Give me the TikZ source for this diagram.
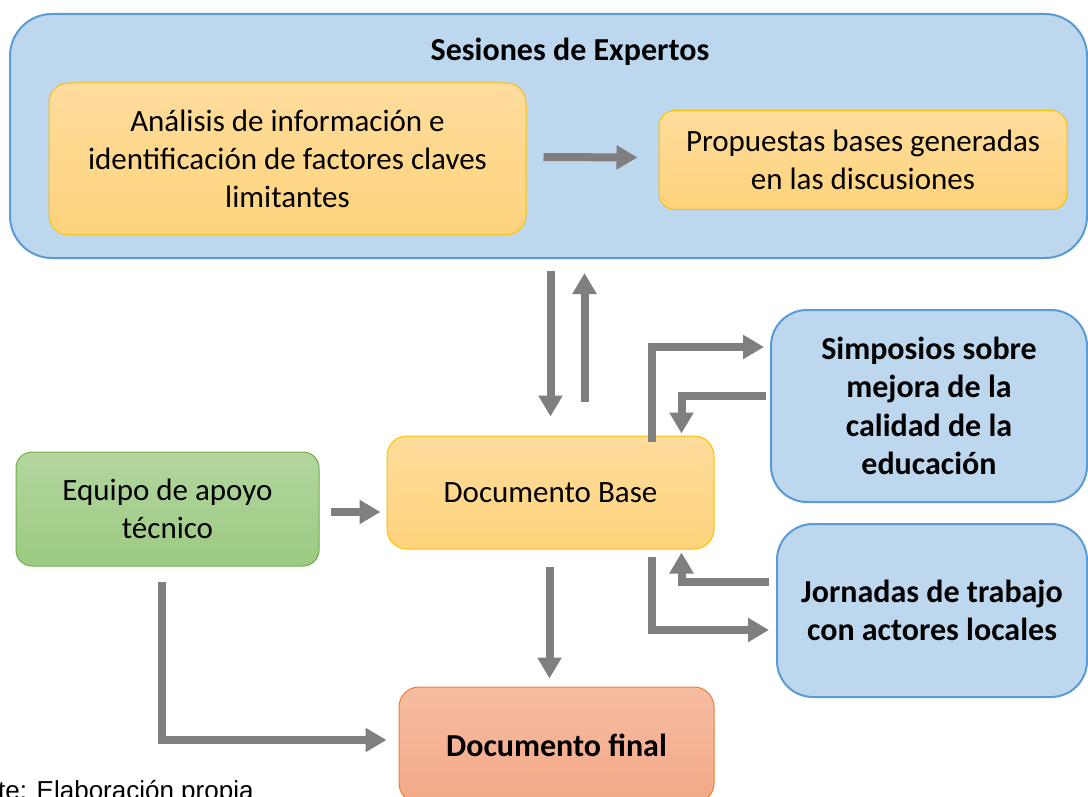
\documentclass[tikz,border=0pt]{standalone}
\usepackage{fontspec}
\setmainfont{Carlito}
\newfontfamily\arialf{Liberation Sans}
\usetikzlibrary{arrows.meta,calc}
\definecolor{bluef}{HTML}{BDD7EE}
\definecolor{blueb}{HTML}{5B9BD5}
\definecolor{orT}{HTML}{FEDC9C}
\definecolor{orB}{HTML}{FED37C}
\definecolor{orb}{HTML}{FFC000}
\definecolor{grT}{HTML}{B3D69F}
\definecolor{grB}{HTML}{9BCA81}
\definecolor{grb}{HTML}{70AD47}
\definecolor{saT}{HTML}{F6BDA2}
\definecolor{saB}{HTML}{F4A886}
\definecolor{sab}{HTML}{ED7D31}
\definecolor{arrg}{HTML}{7F7F7F}
\begin{document}
\begin{tikzpicture}[x=1pt,y=-1pt,
  every node/.style={font=\fontsize{31}{38}\selectfont, align=center, inner sep=0pt},
  bluebox/.style={rectangle, rounded corners=36pt, fill=bluef, draw=blueb, line width=2pt},
  orbox/.style={rectangle, rounded corners=20pt, top color=orT, bottom color=orB, draw=orb, line width=1pt},
  grbox/.style={rectangle, rounded corners=16pt, top color=grT, bottom color=grB, draw=grb, line width=1pt},
  sabox/.style={rectangle, rounded corners=20pt, top color=saT, bottom color=saB, draw=sab, line width=1pt},
  arr/.style={draw=arrg, line width=8pt, -{Triangle[length=21pt,width=23pt]}},
  bold/.style={font=\fontsize{32}{38.5}\selectfont\bfseries}
]
\useasboundingbox (0,0) rectangle (1088,797);
\clip (0,0) rectangle (1088,797);
\fill[white] (0,0) rectangle (1088,797);

% top container
\node[bluebox, minimum width=1077pt, minimum height=244pt, rounded corners=42pt] (top) at (548.5,136) {};
\node[bold] (title) at (570,52) {Sesiones de Expertos};
\node[orbox, minimum width=477pt, minimum height=152pt] (an) at (287.5,159) {Análisis de información e\\identificación de factores claves\\limitantes};
\node[orbox, minimum width=408pt, minimum height=99pt, rounded corners=16pt] (prop) at (863,160) {Propuestas bases generadas\\en las discusiones};

% middle
\node[grbox, minimum width=303pt, minimum height=114pt] (eq) at (167.5,509) {Equipo de apoyo\\técnico};
\node[orbox, minimum width=327pt, minimum height=113pt] (db) at (550.5,492.5) {Documento Base};
\node[bluebox, minimum width=316pt, minimum height=192pt, bold] (simp) at (929,406) {Simposios sobre\\mejora de la\\calidad de la\\educación};
\node[bluebox, minimum width=310pt, minimum height=173pt, bold] (jorn) at (932,610.5) {Jornadas de trabajo\\con actores locales};
\node[sabox, minimum width=315pt, minimum height=116pt, bold] (fin) at (556.5,745) {Documento final};

\node[anchor=base west, font=\arialf\fontsize{26}{30}\selectfont] (src) at (-2,799) {te: Elaboración propia};

% connectors
\draw[arr] ($(an.east)+(17,-2)$) -- ($(prop.west)+(-21,-2.5)$);
\draw[arr] ($(top.south -| db.north)+(0,12)$) -- ($(db.north)+(0,-19)$);
\draw[arr] ($(db.north)+(34,-34)$) -- ($(top.south -| db.north)+(34,14)$);
\draw[arr] ($(eq.east)+(11,3)$) -- ($(db.west)+(-6,19.5)$);
\draw[arr] ($(db.north east)+(-63,6)$) |- ($(simp.west)+(-6,-59)$);
\draw[arr] ($(simp.west)+(-4,-10)$) -| ($(db.north east)+(-33,-2)$);
\draw[arr] ($(jorn.west)+(-7,-28.5)$) -| ($(db.south east)+(-33,3)$);
\draw[arr] ($(db.south east)+(-63,7)$) |- ($(jorn.west)+(-7,19.5)$);
\draw[arr] ($(db.south)+(-1,17)$) -- ($(fin.north)+(-7,-8)$);
\draw[arr] ($(eq.south)+(-6,15)$) |- ($(fin.west)+(-12,-5)$);
\end{tikzpicture}
\end{document}
